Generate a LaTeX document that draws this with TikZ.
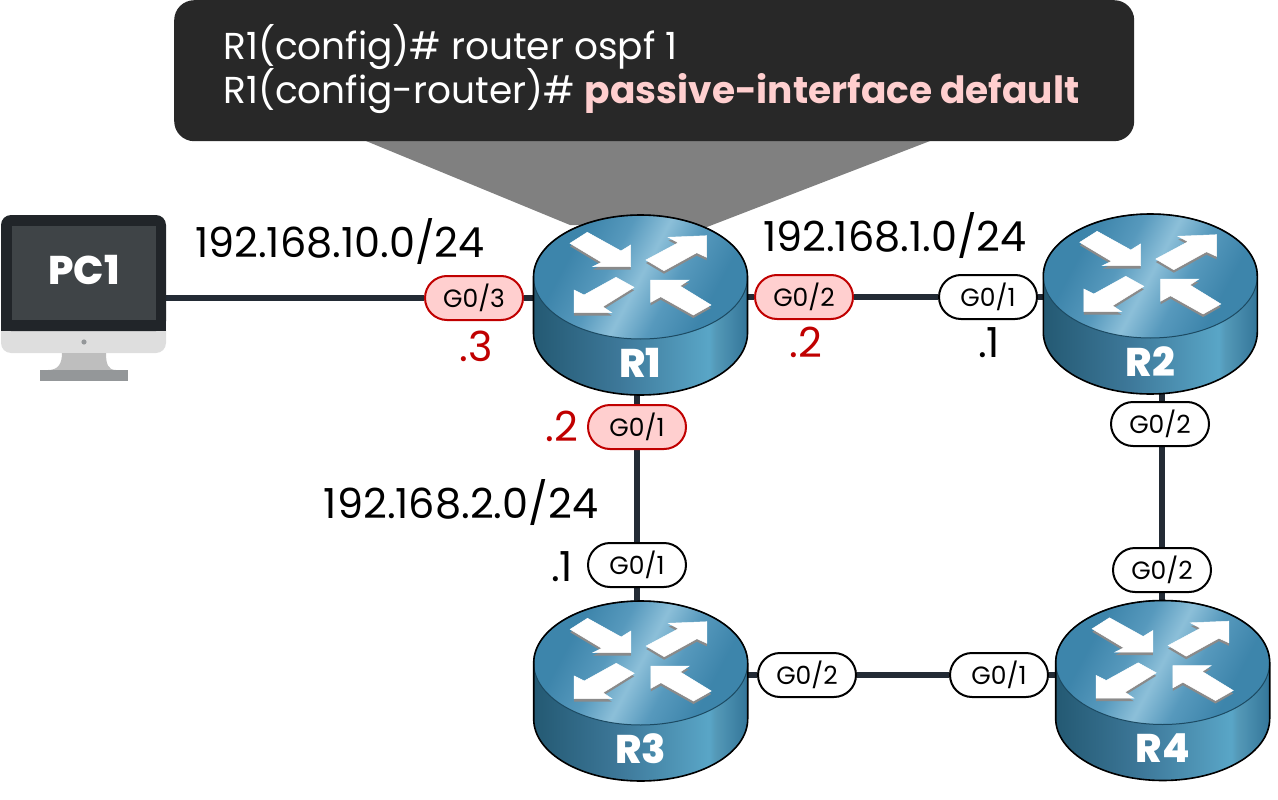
\documentclass[tikz,border=0pt]{standalone}
\usepackage{fontspec}
\setmainfont{Poppins}
\newfontfamily\heavyfont{Poppins ExtraBold}
\usetikzlibrary{shapes.geometric,shapes.misc,backgrounds}
\definecolor{wire}{HTML}{232B35}
\definecolor{redline}{HTML}{C00000}
\definecolor{redfill}{HTML}{FFCFCF}
\definecolor{calloutbg}{HTML}{282828}
\definecolor{funnel}{HTML}{808080}
\definecolor{hl}{HTML}{FFCFCF}
\definecolor{arrowsh}{HTML}{8A8A8A}
\definecolor{rim}{HTML}{1C4A62}
\definecolor{pcdark}{HTML}{212529}
\definecolor{pcscreen}{HTML}{3F4447}
\definecolor{pcchin}{HTML}{DEDEDE}
\definecolor{pcneck}{HTML}{BEBEBE}
\definecolor{pcbase}{HTML}{949799}
\pgfdeclarehorizontalshading{routerside}{100bp}{
  rgb(0bp)=(0.14,0.35,0.45);
  rgb(25bp)=(0.14,0.35,0.45);
  rgb(45bp)=(0.24,0.47,0.60);
  rgb(66bp)=(0.35,0.65,0.78);
  rgb(67.5bp)=(0.33,0.60,0.72);
  rgb(75bp)=(0.20,0.46,0.60);
  rgb(100bp)=(0.20,0.46,0.60)}
\pgfdeclarehorizontalshading{routertop}{100bp}{
  rgb(0bp)=(0.24,0.52,0.67);
  rgb(30bp)=(0.24,0.52,0.67);
  rgb(41bp)=(0.34,0.60,0.74);
  rgb(50bp)=(0.55,0.75,0.85);
  rgb(59bp)=(0.34,0.60,0.74);
  rgb(70bp)=(0.24,0.52,0.67);
  rgb(100bp)=(0.24,0.52,0.67)}
\tikzset{
  x=1pt,y=-1pt,
  link/.style={draw=wire,line width=6pt},
  pill/.style={rectangle,rounded corners=22pt,minimum width=98pt,minimum height=44pt,inner sep=0pt,line width=2pt,font=\fontsize{25}{25}\selectfont},
  plainpill/.style={pill,draw=black,fill=white},
  redpill/.style={pill,draw=redline,fill=redfill},
  netlabel/.style={anchor=base,inner sep=0pt,font=\fontsize{41.4}{41.4}\selectfont,text=black},
  redip/.style={netlabel,text=redline},
  hostip/.style={netlabel},
  devlabel/.style={anchor=center,inner sep=0pt,text=white,font=\heavyfont\fontsize{40}{40}\selectfont},
  anchorbody/.style={ellipse,minimum width=214pt,minimum height=180pt,inner sep=0pt,draw=none},
  arrowface/.style={fill=white,draw=white,line width=0.5pt},
  arrowshade/.style={fill=arrowsh,draw=none,shift={(0,3)}},
  router/.pic={
    \path[shading=routerside] (-107,0) -- (-107,56) arc[start angle=180,end angle=0,x radius=107,y radius=62] -- (107,0) arc[start angle=0,end angle=-180,x radius=107,y radius=62] -- cycle;
    \path[draw=rim,line width=1pt,shading=routertop,shading angle=-28] (0,0) ellipse[x radius=107,y radius=62];
    \draw[black,line width=1.6pt,line join=round] (-107,0) -- (-107,56) arc[start angle=180,end angle=0,x radius=107,y radius=62] -- (107,0) arc[start angle=0,end angle=-180,x radius=107,y radius=62] -- cycle;
    \foreach \st in {arrowshade,arrowface}{
      \path[\st] (-70.5,-33.7) -- (-53.2,-44.7) -- (-19.5,-26) -- (-9.8,-32) -- (-9.8,-10.3) -- (-47.8,-10.3) -- (-38.8,-14.7) -- cycle;
      \path[\st] (5.5,-17) -- (37.8,-34.3) -- (27.8,-39.7) -- (66.2,-41.3) -- (66.2,-19.7) -- (56.2,-24.3) -- (23.5,-6.3) -- cycle;
      \path[\st] (-6.5,10.3) -- (-37.8,29.7) -- (-28.8,35.7) -- (-66.5,35.7) -- (-66.5,13) -- (-56.5,18) -- (-24.5,0.3) -- cycle;
      \path[\st] (10.2,3) -- (48.5,3) -- (39.5,9) -- (70.5,28) -- (52.8,38) -- (20.2,19.7) -- (10.2,25.3) -- cycle;
    }
    \node[devlabel] (lbl) at (0,86) {\tikzpictext};
    \node[anchorbody] (body) at (0,28) {};
  }
}
\pgfdeclarelayer{wires}
\pgfsetlayers{wires,main}
\begin{document}
\begin{tikzpicture}
\useasboundingbox (0,0) rectangle (1278,800);
% callout funnel and box
\path[fill=funnel] (366,141) -- (930,141) -- (707,227) -- (570,225) -- cycle;
\node[rectangle,fill=calloutbg,rounded corners=20pt,minimum width=960pt,minimum height=141pt,inner sep=0pt,anchor=north west] (callout) at (174,0) {};
\node[anchor=base west,inner sep=0pt,text=white,font=\fontsize{37.5}{37.5}\selectfont] (cmdA) at (223,60) {R1(config)\# router ospf 1};
\node[anchor=base west,inner sep=0pt,text=white,font=\fontsize{37.5}{37.5}\selectfont] (cmdB) at (223,103.5) {R1(config-router)\# \textcolor{hl}{\bfseries passive-interface default}};
% PC
\path[fill=pcchin,rounded corners=10pt] (1,300) rectangle (166,353);
\path[fill=pcdark,rounded corners=10pt] (1,215) -- (1,331) -- (166,331) -- (166,215) -- cycle;
\path[fill=pcdark] (1,300) rectangle (166,331);
\path[fill=pcscreen] (12,226) rectangle (156,320);
\path[fill=pcneck] (62,353) .. controls (62,364) and (58,370) .. (48,370) -- (116,370) .. controls (108,370) and (106,364) .. (106,353) -- cycle;
\path[fill=pcbase] (40,370) rectangle (128,381);
\path[fill=pcbase] (84,342) circle[radius=2.6];
\node[devlabel] (PClabel) at (84,270) {PC1};
\node[rectangle,minimum width=165pt,minimum height=166pt,inner sep=0pt,anchor=north west] (PC1) at (1,215) {};
% routers
\pic[pic text=R1] (R1) at (640.5,277) {router};
\pic[pic text=R2] (R2) at (1150.3,276) {router};
\pic[pic text=R3] (R3) at (640.7,663) {router};
\pic[pic text=R4] (R4) at (1162.7,662.5) {router};
% interface pills
\node[redpill] (a3) at (474,298) {G0/3};
\node[redpill] (a2) at (804,297) {G0/2};
\node[plainpill] (b1) at (988,297) {G0/1};
\node[redpill] (a1) at (637,427) {G0/1};
\node[plainpill] (b2) at (1160,424) {G0/2};
\node[plainpill] (c1) at (637,565) {G0/1};
\node[plainpill] (d2) at (1162,570) {G0/2};
\node[plainpill] (c2) at (807,675) {G0/2};
\node[plainpill] (d1) at (999,675) {G0/1};
% connectors
\begin{pgfonlayer}{wires}
\draw[link] (PC1.center |- a3) -- (a3) -- (R1body.center |- a3);
\draw[link] (R1body.center |- a2) -- (a2) -- (b1) -- (R2body.center |- b1);
\draw[link] (a1 |- R1body.center) -- (a1) -- (c1) -- (c1 |- R3body.center);
\draw[link] (d2 |- R2body.center) -- (b2 -| d2) -- (d2) -- (d2 |- R4body.center);
\draw[link] (R3body.center |- c2) -- (c2) -- (d1) -- (R4body.center |- d1);
\end{pgfonlayer}
% labels
\node[netlabel] (n10) at (340,257) {192.168.10.0/24};
\node[netlabel] (n1) at (895,251) {192.168.1.0/24};
\node[netlabel] (n2) at (461,518) {192.168.2.0/24};
\node[redip] (ip3) at (476,361) {.3};
\node[redip] (ip2) at (806,357) {.2};
\node[hostip] (ip1) at (989,357) {.1};
\node[redip] (ip2b) at (562,441) {.2};
\node[hostip] (ip1b) at (562,581) {.1};
\end{tikzpicture}
\end{document}
